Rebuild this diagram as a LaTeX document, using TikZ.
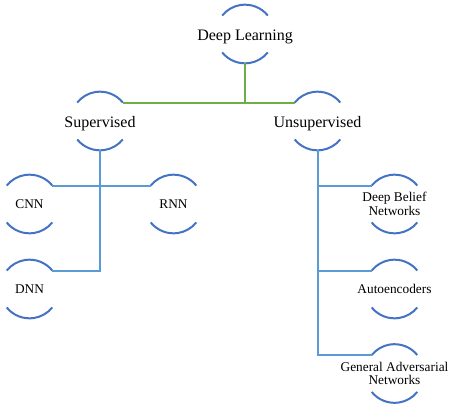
\documentclass[tikz,border=0pt]{standalone}
\usepackage{fontspec}
\setmainfont{Liberation Serif}
\usetikzlibrary{positioning}
\usepackage{xcolor}
\definecolor{ArcBlue}{HTML}{4472C4}
\definecolor{LinkBlue}{HTML}{5B9BD5}
\definecolor{LinkGreen}{HTML}{70AD47}
\tikzset{
    % Invisible circles, only the top and bottom arcs are drawn
    topic/.style={
        circle,
        draw=none,
        minimum size=44pt,
        inner sep=0pt,
        outer sep=0pt
    },
    % Labels sit in the middle of each circle
    rootlabel/.style={
        font=\fontsize{12}{13}\selectfont,
        align=center,
        inner sep=0pt,
        yshift=-2pt
    },
    leaflabel/.style={
        font=\fontsize{10}{10}\selectfont,
        align=center,
        inner sep=0pt
    },
    % Line styles
    arcline/.style={
        draw=ArcBlue,
        line width=1.5pt
    },
    greenlink/.style={
        draw=LinkGreen,
        line width=1.5pt
    },
    bluelink/.style={
        draw=LinkBlue,
        line width=1.5pt
    }
}
\begin{document}
\begin{tikzpicture}[x=0.75pt, y=-0.75pt]
    \useasboundingbox (0,0) rectangle (456,410);

    % Top levels
    \node[topic, label={[rootlabel]center:Deep Learning}] (dl) at (245,34) {};
    \node[topic, label={[rootlabel]center:Supervised}] (sup) at (100,121) {};
    \node[topic, label={[rootlabel]center:Unsupervised}] (uns) at (317.5,121) {};

    % Supervised leaves
    \node[topic, label={[leaflabel]center:CNN}] (cnn) at (29.5,204) {};
    \node[topic, label={[leaflabel]center:RNN}] (rnn) at (173.5,204) {};
    \node[topic, label={[leaflabel]center:DNN}] (dnn) at (29.5,289) {};

    % Unsupervised leaves
    \node[topic, label={[leaflabel]center:Deep Belief\\Networks}] (dbn) at (394.5,204) {};
    \node[topic, label={[leaflabel]center:Autoencoders}] (ae) at (394.5,289) {};
    \node[topic, label={[leaflabel]center:General Adversarial\\Networks}] (gan) at (394.5,373.5) {};

    \foreach \n in {dl,sup,uns,cnn,rnn,dnn,dbn,ae,gan} {
        \draw[arcline] (\n.39) arc (39:141:22pt);
        \draw[arcline] (\n.219) arc (219:321:22pt);
    }

    \draw[greenlink] (dl.south) |- (sup.39);
    \draw[greenlink] (dl.south) |- (uns.141);

    \draw[bluelink] (sup.south) |- (dnn.39);
    \draw[bluelink] (cnn.39) -- (rnn.141);

    \draw[bluelink] (uns.south) |- (gan.141);
    \draw[bluelink] (dbn.141) -| (uns.south);
    \draw[bluelink] (ae.141) -| (uns.south);
\end{tikzpicture}
\end{document}
